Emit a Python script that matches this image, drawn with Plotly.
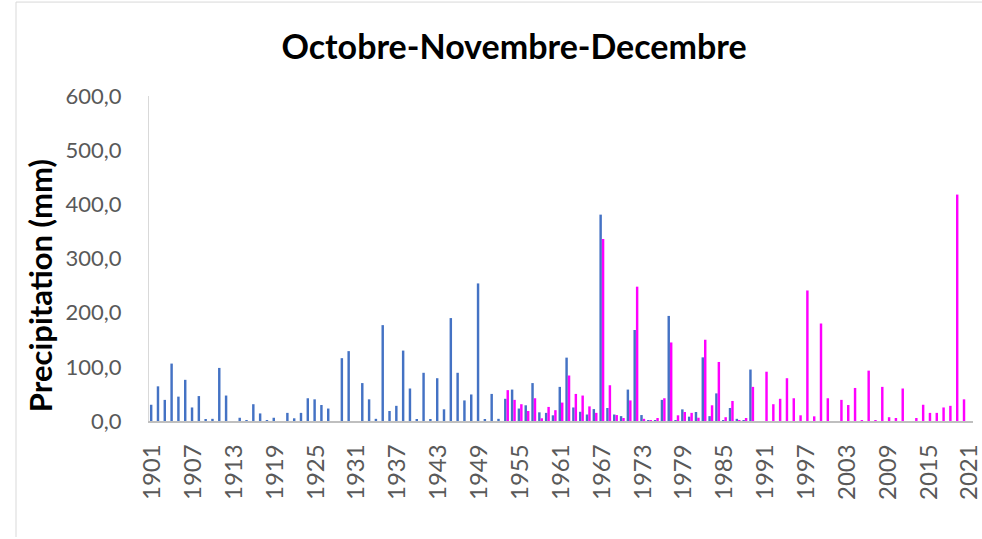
import plotly.graph_objects as go

# years on the category axis
years = list(range(1901, 2022))

# station 1 (blue), 1901-1989; None where no bar is drawn
blue = [30, 64, 39, 106, 45, 76, 25, 46, 2, 4,
        98, 47, None, 6, 1.5, 31, 14, 1.5, 6, None,
        15, 5, 15, 42, 40, 29.5, 23, None, 116, 129,
        None, 70, 40, 4, 177, 18.5, 28, 130, 60, 3,
        89, 3, 79, 21.6, 190, 89, 38, 49, 254, 2,
        50, 4, 41, 58, 23, 29, 70, 16, 15, 10.5,
        63, 117, 25, 17, 12, 22, 381, 24, 12, 9,
        58, 168, 11, 1, 1, 39, 194, 1.5, 21.5, 8,
        16.6, 117.5, 9, 51, 1.5, 24, 4, 1.5, 95]
blue = blue + [None] * (len(years) - len(blue))

# station 2 (magenta), from 1953
magenta = [None] * 52 + [
    57, 39, 31, 18.5, 42, 5, 26, 20,
    34, 84, 50, 47, 27, 15, 336, 66, 11, 5.5,
    38, 248, 4, 1, 5.5, 42, 145, 10.5, 16.6, 15,
    6, 150, 29, 109, 7, 37, 1.5, 5.5, 63, None,
    91, 31, 41, 79, 42, 10.5, 241, 8.6, 180, 42,
    None, 39, 29.5, 61, 1.5, 93, 1.5, 63, 7, 5.5,
    60, None, 5.5, 30, 15, 15, 25, 28, 418, 40,
    None]

tick_years = list(range(1901, 2022, 6))

font_name = "Lato"
grey_text = "#595959"

fig = go.Figure()
fig.add_trace(go.Bar(x=years, y=blue, marker_color="#4472C4",
                     marker_line_width=0, name="blue"))
fig.add_trace(go.Bar(x=years, y=magenta, marker_color="#FF00FF",
                     marker_line_width=0, name="magenta"))

fig.update_layout(
    width=982, height=539,
    margin=dict(l=149, r=9, t=96, b=118),
    paper_bgcolor="white", plot_bgcolor="white",
    barmode="group", bargap=0.28, bargroupgap=0,
    showlegend=False,
    separators=", ",
    font=dict(family=font_name, color=grey_text),
    title=dict(text="<b>Octobre-Novembre-Decembre</b>",
               font=dict(family=font_name, size=34, color="black"),
               x=0.443, xref="paper", xanchor="center",
               y=0.913, yref="container", yanchor="middle"),
)

fig.update_xaxes(
    range=[1900.5, 2021.5],
    tickmode="array", tickvals=tick_years,
    ticktext=[str(y) for y in tick_years],
    tickangle=-90, tickfont=dict(size=24, color=grey_text),
    ticklabelstandoff=12, ticklabeloverflow="allow",
    automargin=False,
    showline=True, linecolor="#bfbfbf", linewidth=1.5,
    showgrid=False, ticks="", zeroline=False,
)
fig.update_yaxes(
    range=[0, 600], dtick=100, tickformat=".1f",
    tickfont=dict(size=22, color=grey_text),
    automargin=False,
    showline=True, linecolor="#d9d9d9", linewidth=1,
    showgrid=False, ticks="", zeroline=False,
    ticklabelstandoff=22,
)

fig.add_annotation(text="<b>Precipitation (mm)</b>", textangle=-90,
                   xref="paper", yref="paper", x=-0.1323, y=0.418,
                   xanchor="center", yanchor="middle",
                   showarrow=False,
                   font=dict(family=font_name, size=31, color="black"))

# chart border on the left and top
fig.add_shape(type="path", xref="paper", yref="paper",
              path="M -0.1614,-0.357 L -0.1614,1.289 L 1.011,1.289",
              line=dict(color="#d9d9d9", width=1))

# drop the page's default body margin so the figure sits at the top-left
fig.write_html("out.html", config={"displayModeBar": False},
               post_script="document.body.style.margin='0';")
